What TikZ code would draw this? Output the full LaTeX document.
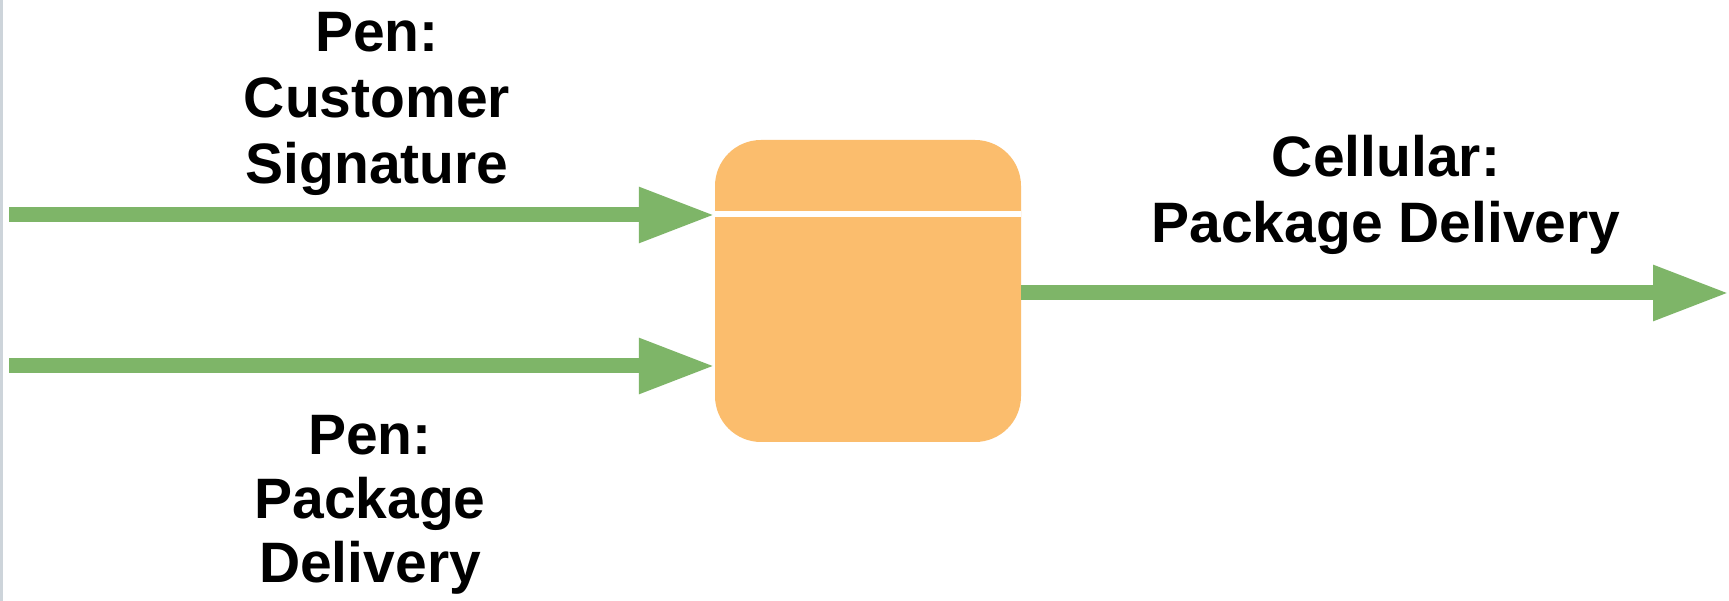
\documentclass[tikz,border=0pt]{standalone}
\usepackage{fontspec}
\setmainfont{Liberation Sans}
\usetikzlibrary{arrows.meta,calc}
\definecolor{flowgreen}{RGB}{126,181,104}
\definecolor{procorange}{RGB}{251,189,109}
\definecolor{edgegray}{RGB}{205,212,218}
\tikzset{
  flow/.style={draw=flowgreen, line width=15pt, -{Triangle[length=76pt,width=52pt]}},
  lbl/.style={font=\bfseries\fontsize{57}{66}\selectfont, align=center, inner sep=0pt, text=black},
  lblb/.style={lbl, font=\bfseries\fontsize{57}{64}\selectfont},
  procbox/.style={fill=procorange, draw=none, rounded corners=46pt, minimum width=306pt, minimum height=302pt, inner sep=0pt}
}
\begin{document}
\begin{tikzpicture}[x=1pt,y=1pt]
  \useasboundingbox[fill=white] (0,0) rectangle (1729,601);
  \draw[edgegray, line width=3pt] (1.5,0) -- (1.5,601);
  \node[procbox] (proc) at (868,310) {};
  \draw[white, line width=6pt] (proc.west |- 0,387) -- (proc.east |- 0,387);
  \coordinate (in1) at (9,386);
  \coordinate (in2) at (9,235);
  \coordinate (out) at (1729,308);
  \draw[flow] (in1) -- (in1 -| proc.west);
  \draw[flow] (in2) -- (in2 -| proc.west);
  \draw[flow] (out -| proc.east) -- (out);
  \node[lbl] (l1) at (377,497.5) {Pen:\\Customer\\Signature};
  \node[lblb] (l2) at (370,96) {Pen:\\Package\\Delivery};
  \node[lbl] (l3) at (1386,406.5) {Cellular:\\Package Delivery};
\end{tikzpicture}
\end{document}
